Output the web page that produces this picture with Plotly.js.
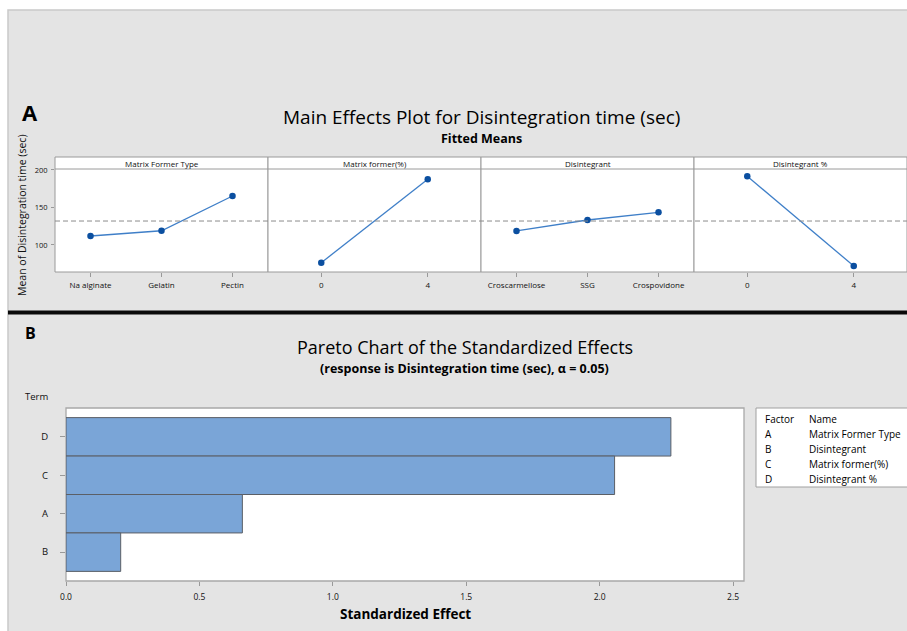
<!DOCTYPE html>
<html>
<head>
<meta charset="utf-8">
<script src="https://cdn.plot.ly/plotly-3.0.1.min.js"></script>
<style>html,body{margin:0;padding:0;background:#fff;}#chart{width:907px;height:631px;}</style>
</head>
<body>
<div id="chart"></div>
<script>
// ---- Data: Main effects (fitted means) ----
const mfTypeCats = ['Na alginate', 'Gelatin', 'Pectin'];
const mfTypeMeans = [112, 119, 165.3];
const mfPctLevels = [0, 4];
const mfPctMeans = [76.4, 187.6];
const disCats = ['Croscarmellose', 'SSG', 'Crospovidone'];
const disMeans = [118.7, 133.3, 143.6];
const disPctLevels = [0, 4];
const disPctMeans = [191.6, 72];
const panelTitles = ['Matrix Former Type', 'Matrix former(%)', 'Disintegrant', 'Disintegrant %'];
const yTicks = [100, 150, 200];

// ---- Data: Pareto ----
const paretoTerms = ['D', 'C', 'A', 'B'];
const paretoEffects = [2.267, 2.056, 0.661, 0.205];
const paretoTicks = [0, 0.5, 1.0, 1.5, 2.0, 2.5];
const paretoTickText = ['0.0', '0.5', '1.0', '1.5', '2.0', '2.5'];
const factorLetters = ['A', 'B', 'C', 'D'];
const factorNames = ['Matrix Former Type', 'Disintegrant', 'Matrix former(%)', 'Disintegrant %'];

const W = 907, H = 631;
const px = v => v / W;
const py = v => 1 - v / H;
const FONT = 'Open Sans, Noto Sans, sans-serif';
const avg = a => a.reduce((s, v) => s + v, 0) / a.length;
const grandMean = (avg(mfTypeMeans) + avg(mfPctMeans) + avg(disMeans) + avg(disPctMeans)) / 4;

const lineStyle = {color: '#3f7fc8', width: 1.3};
const markerStyle = {color: '#0b4fa0', size: 6.5};

const traces = [
  {x: mfTypeCats, y: mfTypeMeans, xaxis: 'x', yaxis: 'y', mode: 'lines+markers', line: lineStyle, marker: markerStyle},
  {x: mfPctLevels, y: mfPctMeans, xaxis: 'x2', yaxis: 'y', mode: 'lines+markers', line: lineStyle, marker: markerStyle},
  {x: disCats, y: disMeans, xaxis: 'x3', yaxis: 'y', mode: 'lines+markers', line: lineStyle, marker: markerStyle},
  {x: disPctLevels, y: disPctMeans, xaxis: 'x4', yaxis: 'y', mode: 'lines+markers', line: lineStyle, marker: markerStyle},
  {x: paretoEffects, y: paretoTerms, xaxis: 'x5', yaxis: 'y5', type: 'bar', orientation: 'h', width: 1,
   marker: {color: '#7aa5d7', line: {color: '#5b5f66', width: 1}}}
];

const panelX = [[55, 268], [268, 481], [481, 694], [694, 907]];
const tickFont = {family: FONT, size: 8, color: '#111'};
const baseX = {
  showgrid: false, zeroline: false, showline: false, ticks: 'outside', ticklen: 4,
  tickcolor: '#999', tickfont: tickFont, fixedrange: true, anchor: 'y', ticklabelstandoff: 1
};

const layout = {
  width: W, height: H,
  margin: {l: 0, r: 0, t: 0, b: 0},
  paper_bgcolor: '#ffffff',
  plot_bgcolor: 'rgba(0,0,0,0)',
  showlegend: false,
  xaxis: Object.assign({}, baseX, {domain: [px(55), px(268)], type: 'category', range: [-0.5, 2.5]}),
  xaxis2: Object.assign({}, baseX, {domain: [px(268), px(481)], range: [-2, 6], tickvals: mfPctLevels, ticktext: mfPctLevels.map(String)}),
  xaxis3: Object.assign({}, baseX, {domain: [px(481), px(694)], type: 'category', range: [-0.5, 2.5]}),
  xaxis4: Object.assign({}, baseX, {domain: [px(694), 1], range: [-2, 6], tickvals: disPctLevels, ticktext: disPctLevels.map(String)}),
  yaxis: {
    domain: [py(272), py(169)], range: [64, 201.3], anchor: 'x',
    tickvals: yTicks, ticks: 'outside', ticklen: 3, tickcolor: '#999',
    tickfont: {family: FONT, size: 7.5, color: '#111'}, ticklabelstandoff: 2,
    showgrid: false, zeroline: false, showline: false, fixedrange: true
  },
  xaxis5: {
    domain: [px(66), px(744)], range: [0, 2.541], anchor: 'y5',
    tickvals: paretoTicks, ticktext: paretoTickText, ticks: 'outside', ticklen: 4, tickcolor: '#999',
    tickfont: {family: FONT, size: 8.5, color: '#111'}, ticklabelstandoff: 4,
    showgrid: false, zeroline: false, showline: false, fixedrange: true
  },
  yaxis5: {
    domain: [py(581), py(408)], range: [-0.75, 3.75], anchor: 'x5',
    type: 'category', categoryorder: 'array', categoryarray: paretoTerms.slice().reverse(),
    ticks: 'outside', ticklen: 5, tickcolor: '#999',
    tickfont: {family: FONT, size: 9.5, color: '#111'}, ticklabelstandoff: 10,
    showgrid: false, zeroline: false, showline: false, fixedrange: true
  },
  shapes: [],
  annotations: []
};

// gray background region and frame
layout.shapes.push({type: 'rect', xref: 'paper', yref: 'paper', x0: px(8), x1: 1.01, y0: -0.01, y1: py(10),
  fillcolor: '#e4e4e4', line: {color: '#c9c9c9', width: 1.5}, layer: 'below'});
// thick black separator
layout.shapes.push({type: 'rect', xref: 'paper', yref: 'paper', x0: px(8), x1: 1.01, y0: py(314.5), y1: py(310.5),
  fillcolor: '#0a0a0a', line: {width: 0}, layer: 'below'});

// Main effects panels
panelX.forEach((p, i) => {
  layout.shapes.push({type: 'rect', xref: 'paper', yref: 'paper', x0: px(p[0]), x1: px(p[1]), y0: py(272), y1: py(157),
    fillcolor: '#ffffff', line: {color: '#9a9a9a', width: 1}, layer: 'below'});
  layout.shapes.push({type: 'line', xref: 'paper', yref: 'paper', x0: px(p[0]), x1: px(p[1]), y0: py(169), y1: py(169),
    line: {color: '#9a9a9a', width: 1}});
  layout.annotations.push({xref: 'paper', yref: 'paper', x: (px(p[0]) + px(p[1])) / 2, y: py(163.5),
    text: panelTitles[i], showarrow: false, xanchor: 'center', yanchor: 'middle',
    font: {family: FONT, size: 8, color: '#111'}});
});
// dashed grand mean line
layout.shapes.push({type: 'line', xref: 'paper', yref: 'y', x0: px(55), x1: 1, y0: grandMean, y1: grandMean,
  line: {color: '#8c8c8c', width: 1, dash: '5px,3px'}});

// Pareto plot area
layout.shapes.push({type: 'rect', xref: 'paper', yref: 'paper', x0: px(66), x1: px(744), y0: py(581), y1: py(408),
  fillcolor: '#ffffff', line: {color: '#a8a8a8', width: 1.3}, layer: 'below'});
// Pareto factor legend box
layout.shapes.push({type: 'rect', xref: 'paper', yref: 'paper', x0: px(756), x1: 1.01, y0: py(487), y1: py(408),
  fillcolor: '#ffffff', line: {color: '#a0a0a0', width: 1}, layer: 'below'});

const ann = (x, y, text, size, opts) => layout.annotations.push(Object.assign({
  xref: 'paper', yref: 'paper', x: px(x), y: py(y), text: text, showarrow: false,
  xanchor: 'center', yanchor: 'middle', font: {family: FONT, size: size, color: '#000'}
}, opts || {}));

ann(30, 112, '<b>A</b>', 22);
ann(481, 117, 'Main Effects Plot for Disintegration time (sec)', 19);
ann(481, 139, '<b>Fitted Means</b>', 12.5);
ann(22, 216, 'Mean of Disintegration time (sec)', 10.5, {textangle: -90, font: {family: FONT, size: 10.5, color: '#111'}});

ann(30, 333, '<b>B</b>', 16);
ann(465, 347, 'Pareto Chart of the Standardized Effects', 18);
ann(465, 368, '<b>(response is Disintegration time (sec), α = 0.05)</b>', 12.5);
ann(36, 396, 'Term', 9.5, {font: {family: FONT, size: 9.5, color: '#111'}});
ann(405, 614, '<b>Standardized Effect</b>', 13.5);

ann(763, 419, 'Factor', 10, {xanchor: 'left'});
ann(807, 419, 'Name', 10, {xanchor: 'left'});
factorLetters.forEach((f, i) => {
  ann(763, 434 + i * 15, f, 10, {xanchor: 'left'});
  ann(807, 434 + i * 15, factorNames[i], 10, {xanchor: 'left'});
});

Plotly.newPlot('chart', traces, layout, {displayModeBar: false, staticPlot: true});
</script>
</body>
</html>
